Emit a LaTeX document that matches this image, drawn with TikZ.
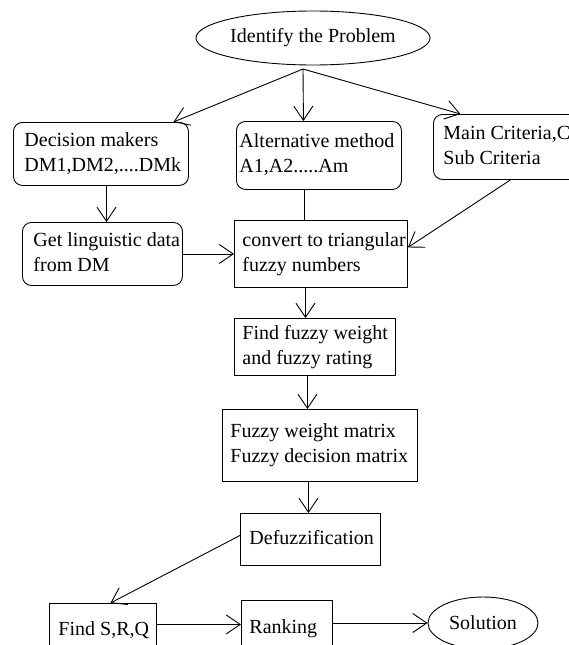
\documentclass[tikz,border=0pt]{standalone}
\usepackage{fontspec}
\setmainfont{Liberation Serif}
\usetikzlibrary{shapes.geometric,arrows.meta}
\newcommand{\boxlines}[3]{\makebox[#1][l]{\begin{tabular}{@{\hspace{#2}}l@{}}#3\end{tabular}}}
\begin{document}
\begin{tikzpicture}[x=1pt,y=-1pt,
  every node/.style={font=\fontsize{20}{25}\selectfont},
  rbox/.style={draw, line width=0.9pt, rounded corners=9pt, anchor=north west, inner xsep=0pt, inner ysep=0pt},
  sbox/.style={draw, line width=0.9pt, anchor=north west, inner xsep=0pt, inner ysep=0pt},
  oval/.style={draw, ellipse, line width=0.9pt, inner sep=0pt},
  arr/.style={line width=0.9pt, -{Straight Barb[length=14pt,width=19pt]}},
  link/.style={line width=0.9pt}]
\useasboundingbox (0,0) rectangle (568,645);

\node[oval, minimum width=198pt, minimum height=54pt] (prob) at (313,38) {Identify the Problem};
\coordinate (top) at (303,69);

\node[rbox, minimum height=63pt] (dm) at (13,122) {\boxlines{175pt}{11pt}{Decision makers\\DM1,DM2,....DMk}};
\node[rbox, minimum height=68pt] (alt) at (236,121) {\boxlines{165pt}{3pt}{Alternative method\\A1,A2.....Am}};
\node[rbox, minimum height=65pt] (crit) at (433,114) {\boxlines{147pt}{10pt}{Main Criteria,C\\Sub Criteria}};

\node[rbox, minimum height=63pt] (ling) at (22,222) {\boxlines{160pt}{11pt}{Get linguistic data\\from DM}};
\node[sbox, minimum height=67pt] (conv) at (234,220) {\boxlines{173pt}{8pt}{convert to triangular\\fuzzy numbers}};
\node[sbox, minimum height=57pt] (fw) at (234,318) {\boxlines{161pt}{8pt}{Find fuzzy weight\\and fuzzy rating}};
\node[sbox, minimum height=72pt] (fm) at (222,409) {\boxlines{195pt}{8pt}{Fuzzy weight matrix\\Fuzzy decision matrix}};
\node[sbox, minimum height=52pt] (defz) at (240,513) {\boxlines{140pt}{9pt}{Defuzzification}};
\node[sbox, minimum height=54pt] (srq) at (49,603) {\boxlines{107pt}{9pt}{Find S,R,Q}};
\node[sbox, minimum height=57pt] (rank) at (241,600) {\boxlines{91pt}{8pt}{Ranking}};
\node[oval, minimum width=110pt, minimum height=52pt] (sol) at (483,623) {Solution\hspace{8pt}};

\draw[arr] (top) -- ([xshift=72.5pt]dm.north);
\draw[arr] (top) -- ([xshift=-15.5pt]alt.north);
\draw[arr] (top) -- ([xshift=-46.5pt]crit.north);
\draw[arr] ([xshift=5.5pt]dm.south) -- ([xshift=5.5pt]dm.south |- ling.north);
\draw[arr] (ling.east) -- (ling.east -| conv.west);
\draw[link] ([xshift=-14.5pt]alt.south) -- ([xshift=-14.5pt]alt.south |- conv.north);
\draw[arr] ([xshift=3.5pt]crit.south) -- ([yshift=6.5pt]conv.east);
\draw[arr] ([xshift=-15.5pt]conv.south) -- ([xshift=-15.5pt]conv.south |- fw.north);
\draw[arr] ([xshift=-7.5pt]fw.south) -- ([xshift=-7.5pt]fw.south |- fm.north);
\draw[arr] ([xshift=-11.5pt]fm.south) -- ([xshift=-11.5pt]fm.south |- defz.north);
\draw[arr] ([yshift=4pt]defz.west) -- ([xshift=7.5pt]srq.north);
\draw[arr] ([yshift=6pt]srq.east) -- ([yshift=6pt]srq.east -| rank.west);
\draw[arr] (rank.east |- sol.west) -- (sol.west);
\end{tikzpicture}
\end{document}
